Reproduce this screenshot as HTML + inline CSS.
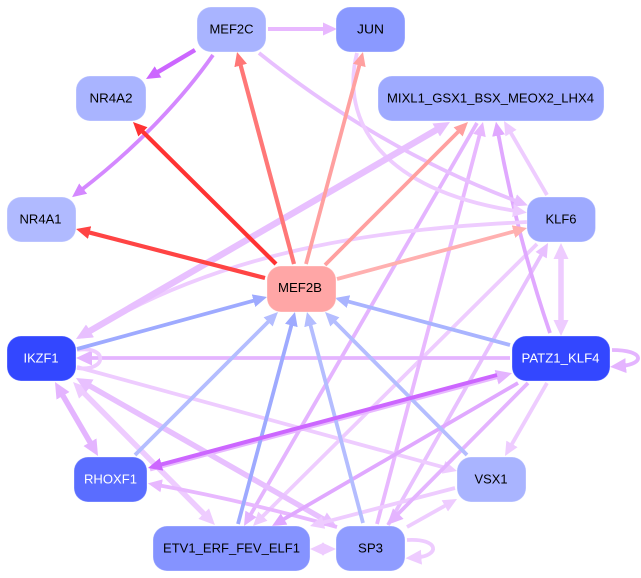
<!DOCTYPE html>
<html>
<head>
<meta charset="utf-8">
<style>
html,body{margin:0;padding:0;background:#fff}
svg{display:block}
text{font-family:"Liberation Sans",Arial,sans-serif;font-size:12.5px;text-anchor:middle}
.e{fill:none;stroke-width:3.8}
</style>
</head>
<body>
<svg width="641" height="578" viewBox="0 0 641 578" xmlns="http://www.w3.org/2000/svg">
<defs>
<marker id="a" markerUnits="userSpaceOnUse" markerWidth="15" markerHeight="15" refX="3" refY="7" orient="auto-start-reverse"><path d="M0,0.5L14,7L0,13.5z" fill="#ff4444"/></marker>
<marker id="b" markerUnits="userSpaceOnUse" markerWidth="15" markerHeight="15" refX="3" refY="7" orient="auto-start-reverse"><path d="M0,0.5L14,7L0,13.5z" fill="#ff3333"/></marker>
<marker id="c" markerUnits="userSpaceOnUse" markerWidth="15" markerHeight="15" refX="3" refY="7" orient="auto-start-reverse"><path d="M0,0.5L14,7L0,13.5z" fill="#ff7777"/></marker>
<marker id="d" markerUnits="userSpaceOnUse" markerWidth="15" markerHeight="15" refX="3" refY="7" orient="auto-start-reverse"><path d="M0,0.5L14,7L0,13.5z" fill="#ffa0a0"/></marker>
<marker id="e" markerUnits="userSpaceOnUse" markerWidth="15" markerHeight="15" refX="3" refY="7" orient="auto-start-reverse"><path d="M0,0.5L14,7L0,13.5z" fill="#ffb0b0"/></marker>
<marker id="f" markerUnits="userSpaceOnUse" markerWidth="15" markerHeight="15" refX="3" refY="7" orient="auto-start-reverse"><path d="M0,0.5L14,7L0,13.5z" fill="#e8b8ff"/></marker>
<marker id="g" markerUnits="userSpaceOnUse" markerWidth="15" markerHeight="15" refX="3" refY="7" orient="auto-start-reverse"><path d="M0,0.5L14,7L0,13.5z" fill="#cc66ff"/></marker>
<marker id="h" markerUnits="userSpaceOnUse" markerWidth="15" markerHeight="15" refX="3" refY="7" orient="auto-start-reverse"><path d="M0,0.5L14,7L0,13.5z" fill="#d488ff"/></marker>
<marker id="i" markerUnits="userSpaceOnUse" markerWidth="15" markerHeight="15" refX="3" refY="7" orient="auto-start-reverse"><path d="M0,0.5L14,7L0,13.5z" fill="#e8c0ff"/></marker>
<marker id="j" markerUnits="userSpaceOnUse" markerWidth="15" markerHeight="15" refX="3" refY="7" orient="auto-start-reverse"><path d="M0,0.5L14,7L0,13.5z" fill="#eeccff"/></marker>
<marker id="k" markerUnits="userSpaceOnUse" markerWidth="15" markerHeight="15" refX="3" refY="7" orient="auto-start-reverse"><path d="M0,0.5L14,7L0,13.5z" fill="#e0a8ff"/></marker>
<marker id="l" markerUnits="userSpaceOnUse" markerWidth="15" markerHeight="15" refX="3" refY="7" orient="auto-start-reverse"><path d="M0,0.5L14,7L0,13.5z" fill="#e4b4ff"/></marker>
<marker id="m" markerUnits="userSpaceOnUse" markerWidth="15" markerHeight="15" refX="3" refY="7" orient="auto-start-reverse"><path d="M0,0.5L14,7L0,13.5z" fill="#9eaaff"/></marker>
<marker id="n" markerUnits="userSpaceOnUse" markerWidth="15" markerHeight="15" refX="3" refY="7" orient="auto-start-reverse"><path d="M0,0.5L14,7L0,13.5z" fill="#b4bdff"/></marker>
<marker id="o" markerUnits="userSpaceOnUse" markerWidth="15" markerHeight="15" refX="3" refY="7" orient="auto-start-reverse"><path d="M0,0.5L14,7L0,13.5z" fill="#a9b4ff"/></marker>
<marker id="I" markerUnits="userSpaceOnUse" markerWidth="18" markerHeight="18" refX="5" refY="9" orient="auto-start-reverse"><path d="M0,1.5L16,9L0,16.5z" fill="#e8c0ff"/></marker>
<marker id="J" markerUnits="userSpaceOnUse" markerWidth="18" markerHeight="18" refX="5" refY="9" orient="auto-start-reverse"><path d="M0,1.5L16,9L0,16.5z" fill="#eeccff"/></marker>
<marker id="L" markerUnits="userSpaceOnUse" markerWidth="18" markerHeight="18" refX="5" refY="9" orient="auto-start-reverse"><path d="M0,1.5L16,9L0,16.5z" fill="#e4b4ff"/></marker>
</defs>

<!-- light purple edges -->
<path class="e" stroke="#eeccff" marker-end="url(#j)" d="M537,244L260.8,518.2"/>
<path class="e" stroke="#e8c0ff" marker-end="url(#i)" d="M388,525L542.6,252.6"/>
<path class="e" stroke="#e4b4ff" marker-end="url(#l)" d="M477,123L249.5,516.5"/>
<path class="e" stroke="#e8b8ff" marker-end="url(#f)" d="M377,524L480.2,132.6"/>
<path class="e" stroke="#e0a8ff" marker-end="url(#k)" d="M550,333Q518,240 498,132.6"/>
<path class="e" stroke="#eeccff" marker-end="url(#j)" d="M547,195L509.5,130.5"/>
<path class="e" stroke="#e8c0ff" marker-end="url(#i)" d="M259,53Q380,150 517.5,201.5"/>
<path class="e" stroke="#eeccff" marker-end="url(#j)" d="M357,53C340,120 380,190 516,211"/>
<path class="e" stroke="#eeccff" marker-end="url(#j)" d="M527,222C400,228 230,245 88,333"/>
<path class="e" stroke="#e8c0ff" style="stroke-width:6.5" marker-start="url(#I)" marker-end="url(#I)" d="M85.5,333.5L440.5,127.5"/>
<path class="e" stroke="#e4b4ff" marker-end="url(#L)" d="M510,358L87,358"/>
<path class="e" stroke="#eeccff" d="M77,350C108,345 108,372 77,368"/>
<path class="e" stroke="#eeccff" marker-end="url(#j)" d="M77,367L446.4,468.1"/>
<path class="e" stroke="#e8b8ff" style="stroke-width:4" marker-end="url(#L)" d="M150,469.5L501.4,376"/>
<path class="e" stroke="#e4b4ff" style="stroke-width:5.5" marker-start="url(#L)" marker-end="url(#L)" d="M60.5,391.5L92.5,446.5"/>
<path class="e" stroke="#eeccff" style="stroke-width:5.5" marker-start="url(#J)" marker-end="url(#J)" d="M80.8,389.8L207.2,517.2"/>
<path class="e" stroke="#e8c0ff" style="stroke-width:5.5" marker-start="url(#I)" marker-end="url(#I)" d="M85.5,383.5L327.5,521.5"/>
<path class="e" stroke="#e8b8ff" marker-end="url(#f)" d="M337,527Q240,500 158.7,485.3"/>
<path class="e" stroke="#eeccff" marker-end="url(#j)" d="M455,488L320.6,523.2"/>
<path class="e" stroke="#eeccff" marker-end="url(#j)" d="M407,527L447.4,504.4"/>
<path class="e" stroke="#eeccff" style="stroke-width:4" marker-start="url(#j)" marker-end="url(#j)" d="M321,549L325,549"/>
<path class="e" stroke="#eeccff" marker-end="url(#J)" d="M407,540C440,538 440,556 416.5,557.5"/>
<path class="e" stroke="#e4b4ff" marker-end="url(#L)" d="M612,350C645,350 645,364 621,366"/>
<path class="e" stroke="#eeccff" marker-end="url(#j)" d="M547,383L510.5,446.5"/>
<path class="e" stroke="#e0a8ff" marker-end="url(#k)" d="M518,383L281.5,520.5"/>
<path class="e" stroke="#e4b4ff" marker-end="url(#L)" d="M528,383L394.8,517.2"/>
<path class="e" stroke="#eeccff" style="stroke-width:5.5" marker-start="url(#J)" marker-end="url(#J)" d="M561,254L561,325"/>
<path class="e" stroke="#e8b8ff" style="stroke-width:4" marker-end="url(#f)" d="M268,29L326,29"/>

<!-- blue edges -->
<path class="e" stroke="#9eaaff" marker-end="url(#m)" d="M77,349L256.4,299.9"/>
<path class="e" stroke="#b4bdff" marker-end="url(#n)" d="M135,455L270.2,319.8"/>
<path class="e" stroke="#9eaaff" marker-end="url(#m)" d="M238,524L292.1,322.6"/>
<path class="e" stroke="#b4bdff" marker-end="url(#n)" d="M363,523L309.8,322.6"/>
<path class="e" stroke="#b4bdff" marker-end="url(#n)" d="M467,455L332.8,319.8"/>
<path class="e" stroke="#a9b4ff" marker-end="url(#o)" d="M510,345L345.6,300.8"/>

<!-- strong purple edges -->
<path class="e" stroke="#cc66ff" style="stroke-width:4" marker-end="url(#g)" d="M497,375L158.6,465.2"/>
<path class="e" stroke="#cc66ff" style="stroke-width:4.5" marker-end="url(#g)" d="M195,50L155.5,73.4"/>
<path class="e" stroke="#d488ff" marker-end="url(#h)" d="M213,55C185,95 140,145 80.8,190.4"/>

<!-- red edges -->
<path class="e" stroke="#ff4444" style="stroke-width:4.2" marker-end="url(#a)" d="M265,278L86.7,231.8"/>
<path class="e" stroke="#ff3333" style="stroke-width:4.2" marker-end="url(#b)" d="M276,264L140.8,129.8"/>
<path class="e" stroke="#ff7777" style="stroke-width:4.2" marker-end="url(#c)" d="M294,264L239.9,62.6"/>
<path class="e" stroke="#ffa0a0" marker-end="url(#d)" d="M306,264L360.1,62.6"/>
<path class="e" stroke="#ffa0a0" marker-end="url(#d)" d="M325,265L460.2,129.8"/>
<path class="e" stroke="#ffb0b0" marker-end="url(#e)" d="M337,279L516.4,230.8"/>

<!-- nodes -->
<g stroke="#ffffff" stroke-opacity="0.3" stroke-width="1">
<rect x="197" y="7" width="69" height="45" rx="14" fill="#a9b4ff"/>
<rect x="336" y="7" width="69" height="45" rx="14" fill="#8a99ff"/>
<rect x="76" y="76" width="70" height="45" rx="14" fill="#a9b4ff"/>
<rect x="378" y="76" width="226" height="45" rx="14" fill="#9eaaff"/>
<rect x="7" y="197" width="69" height="45" rx="14" fill="#b0baff"/>
<rect x="527" y="197" width="68.5" height="45" rx="14" fill="#9eaaff"/>
<rect x="267" y="266" width="69" height="46" rx="14" fill="#ffa6a6"/>
<rect x="7" y="336" width="69" height="45" rx="14" fill="#3347ff"/>
<rect x="512" y="336" width="98" height="45" rx="14" fill="#3347ff"/>
<rect x="74" y="457" width="73" height="45" rx="14" fill="#5a6dff"/>
<rect x="457" y="457" width="69" height="45" rx="14" fill="#a9b4ff"/>
<rect x="153" y="526" width="157" height="45" rx="14" fill="#8593ff"/>
<rect x="336" y="526" width="69" height="45" rx="14" fill="#8f9cff"/>
</g>

<!-- labels -->
<text x="231.5" y="33.5" textLength="44" lengthAdjust="spacingAndGlyphs">MEF2C</text>
<text x="370.5" y="33.5" textLength="27" lengthAdjust="spacingAndGlyphs">JUN</text>
<text x="111" y="102.5" textLength="43" lengthAdjust="spacingAndGlyphs">NR4A2</text>
<text x="490.5" y="102.5" textLength="207" lengthAdjust="spacingAndGlyphs">MIXL1_GSX1_BSX_MEOX2_LHX4</text>
<text x="40.5" y="223.5" textLength="42" lengthAdjust="spacingAndGlyphs">NR4A1</text>
<text x="561" y="223.5" textLength="31" lengthAdjust="spacingAndGlyphs">KLF6</text>
<text x="300" y="292" textLength="44" lengthAdjust="spacingAndGlyphs">MEF2B</text>
<text x="41" y="362.5" textLength="35" lengthAdjust="spacingAndGlyphs" fill="#ffffff">IKZF1</text>
<text x="560.5" y="362.5" textLength="78" lengthAdjust="spacingAndGlyphs" fill="#ffffff">PATZ1_KLF4</text>
<text x="110.5" y="483.5" textLength="53" lengthAdjust="spacingAndGlyphs" fill="#ffffff">RHOXF1</text>
<text x="491" y="483.5" textLength="33" lengthAdjust="spacingAndGlyphs">VSX1</text>
<text x="231.5" y="552.5" textLength="137" lengthAdjust="spacingAndGlyphs">ETV1_ERF_FEV_ELF1</text>
<text x="370.5" y="552.5" textLength="25" lengthAdjust="spacingAndGlyphs">SP3</text>
</svg>
</body>
</html>
